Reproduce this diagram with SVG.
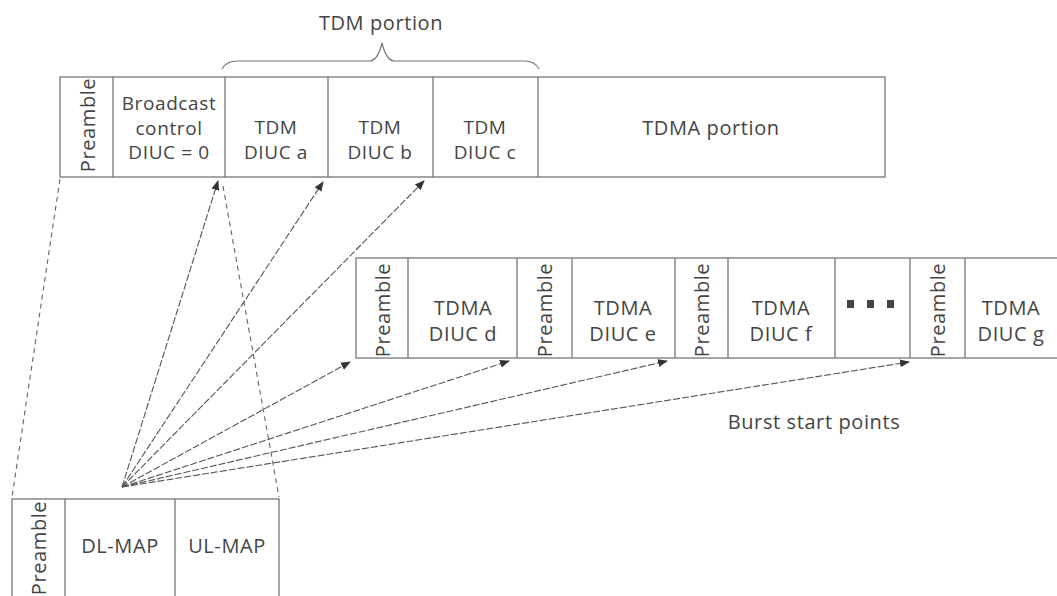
<svg xmlns="http://www.w3.org/2000/svg" width="1057" height="596" viewBox="0 0 1057 596">
  <style>
    .cell { fill: none; stroke: #6a6a6a; stroke-width: 1.2; }
    .lbl { font-family: "Open Sans", "Noto Sans", sans-serif; font-size: 20px; fill: #444; text-anchor: middle; letter-spacing: 0.6px; }
    .sm { font-size: 19px; }
    .conn { fill: none; stroke: #555; stroke-width: 1.1; stroke-dasharray: 7 2; }
    .guide { fill: none; stroke: #666; stroke-width: 1.1; stroke-dasharray: 5 4; }
    .brace { fill: none; stroke: #777; stroke-width: 1.2; }
    .dot { fill: #444; }
  </style>
  <defs>
    <marker id="arrow" markerUnits="userSpaceOnUse" markerWidth="10" markerHeight="10" viewBox="0 0 10 10" refX="9" refY="5" orient="auto">
      <path d="M0,1 L10,5 L0,9 Z" fill="#333"/>
    </marker>
  </defs>
  <rect width="1057" height="596" fill="#ffffff"/>

  <!-- heading over the TDM cells -->
  <g id="tdm-portion">
    <path class="brace" d="M222,69 Q226,61 238,61 L370,61 Q378,60 382,43 Q386,60 394,61 L524,61 Q535,61 539,69"/>
    <text class="lbl" x="381" y="30">TDM portion</text>
  </g>

  <!-- downlink subframe -->
  <g id="dl-frame">
    <rect class="cell" x="60" y="77" width="825" height="100"/>
    <line class="cell" x1="113" y1="77" x2="113" y2="177"/>
    <line class="cell" x1="225" y1="77" x2="225" y2="177"/>
    <line class="cell" x1="328" y1="77" x2="328" y2="177"/>
    <line class="cell" x1="433" y1="77" x2="433" y2="177"/>
    <line class="cell" x1="538" y1="77" x2="538" y2="177"/>
    <text class="lbl" transform="translate(95,125) rotate(-90)">Preamble</text>
    <text class="lbl sm" x="169" y="110">Broadcast<tspan x="169" dy="24.5">control</tspan><tspan x="169" dy="24.5">DIUC = 0</tspan></text>
    <text class="lbl sm" x="276" y="134">TDM<tspan x="276" dy="24.5">DIUC a</tspan></text>
    <text class="lbl sm" x="380" y="134">TDM<tspan x="380" dy="24.5">DIUC b</tspan></text>
    <text class="lbl sm" x="485" y="134">TDM<tspan x="485" dy="24.5">DIUC c</tspan></text>
    <text class="lbl" x="711" y="135">TDMA portion</text>
  </g>

  <!-- TDMA bursts -->
  <g id="tdma-bursts">
    <rect class="cell" x="356" y="258" width="720" height="100"/>
    <line class="cell" x1="408" y1="258" x2="408" y2="358"/>
    <line class="cell" x1="517" y1="258" x2="517" y2="358"/>
    <line class="cell" x1="572" y1="258" x2="572" y2="358"/>
    <line class="cell" x1="675" y1="258" x2="675" y2="358"/>
    <line class="cell" x1="728" y1="258" x2="728" y2="358"/>
    <line class="cell" x1="835" y1="258" x2="835" y2="358"/>
    <line class="cell" x1="910" y1="258" x2="910" y2="358"/>
    <line class="cell" x1="965" y1="258" x2="965" y2="358"/>
    <text class="lbl" transform="translate(390,310) rotate(-90)">Preamble</text>
    <text class="lbl" transform="translate(552,310) rotate(-90)">Preamble</text>
    <text class="lbl" transform="translate(709,310) rotate(-90)">Preamble</text>
    <text class="lbl" transform="translate(945,310) rotate(-90)">Preamble</text>
    <text class="lbl" x="463" y="315">TDMA<tspan x="463" dy="26">DIUC d</tspan></text>
    <text class="lbl" x="623" y="315">TDMA<tspan x="623" dy="26">DIUC e</tspan></text>
    <text class="lbl" x="781" y="315">TDMA<tspan x="781" dy="26">DIUC f</tspan></text>
    <text class="lbl" x="1011" y="315">TDMA<tspan x="1011" dy="26">DIUC g</tspan></text>
    <rect class="dot" x="847" y="300" width="7" height="8"/>
    <rect class="dot" x="867" y="300" width="7" height="8"/>
    <rect class="dot" x="887" y="300" width="7" height="8"/>
  </g>

  <!-- frame start: preamble and maps -->
  <g id="map-frame">
    <rect class="cell" x="12" y="499" width="267" height="120"/>
    <line class="cell" x1="65" y1="499" x2="65" y2="619"/>
    <line class="cell" x1="175" y1="499" x2="175" y2="619"/>
    <text class="lbl" transform="translate(46,548) rotate(-90)">Preamble</text>
    <text class="lbl" x="120" y="553">DL-MAP</text>
    <text class="lbl" x="227" y="553">UL-MAP</text>
  </g>

  <g id="burst-label">
    <text class="lbl" x="814" y="429">Burst start points</text>
  </g>

  <!-- connectors -->
  <g id="connectors">
    <line class="guide" x1="60" y1="179" x2="12" y2="497"/>
    <line class="guide" x1="223" y1="186" x2="279" y2="497"/>
    <line class="conn" x1="122" y1="487" x2="218" y2="181" marker-end="url(#arrow)"/>
    <line class="conn" x1="122" y1="487" x2="323" y2="182" marker-end="url(#arrow)"/>
    <line class="conn" x1="122" y1="487" x2="424" y2="181" marker-end="url(#arrow)"/>
    <line class="conn" x1="122" y1="487" x2="350" y2="362" marker-end="url(#arrow)"/>
    <line class="conn" x1="122" y1="487" x2="509" y2="361" marker-end="url(#arrow)"/>
    <line class="conn" x1="122" y1="487" x2="667" y2="361" marker-end="url(#arrow)"/>
    <line class="conn" x1="122" y1="487" x2="909" y2="362" marker-end="url(#arrow)"/>
  </g>
</svg>
